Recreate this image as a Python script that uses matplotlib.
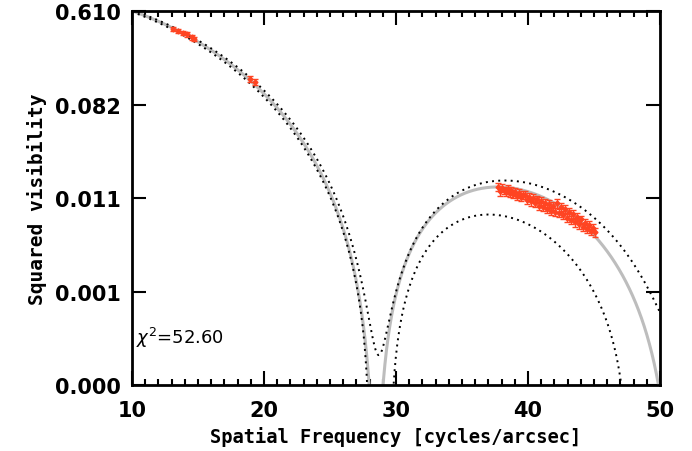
import numpy as np
import matplotlib
matplotlib.use('Agg')
import matplotlib.pyplot as plt
from matplotlib.ticker import MultipleLocator, NullLocator

# measured squared visibilities
freq_a = [13.13, 13.51, 13.84, 14.14, 14.52, 14.71, 18.94, 19.32]
v2_a = [0.418, 0.403, 0.383, 0.373, 0.350, 0.337, 0.1426, 0.1337]
err_a = [0.020, 0.019, 0.018, 0.018, 0.017, 0.016, 0.009, 0.009]

freq_b = [37.70, 37.85, 38.00, 38.15, 38.30, 38.45, 38.60, 38.75, 38.90, 39.05,
          39.20, 39.35, 39.50, 39.65, 39.80, 39.95, 40.10, 40.25, 40.40, 40.55,
          40.70, 40.85, 41.00, 41.15, 41.30, 41.45, 41.60, 41.75, 41.90, 42.05,
          42.20, 42.35, 42.50, 42.65, 42.80, 42.95, 43.10, 43.25, 43.40, 43.55,
          43.70, 43.85, 44.00, 44.15, 44.30, 44.45, 44.60, 44.75, 44.90, 45.05]
v2_b = [0.0140, 0.0128, 0.0137, 0.0131, 0.0126, 0.0134, 0.0124, 0.0129, 0.0121, 0.0126,
        0.0117, 0.0123, 0.0113, 0.0119, 0.0118, 0.0107, 0.0114, 0.0103, 0.0111, 0.0100,
        0.0108, 0.0094, 0.0105, 0.0092, 0.0100, 0.0088, 0.0098, 0.0084, 0.0094, 0.0082,
        0.0099, 0.0080, 0.0091, 0.0077, 0.0088, 0.0072, 0.0082, 0.0069, 0.0078, 0.0066,
        0.0074, 0.0063, 0.0070, 0.0060, 0.0065, 0.0057, 0.0062, 0.0055, 0.0058, 0.0053]
err_b = [0.0012, 0.0011, 0.0012, 0.0011, 0.0011, 0.0012, 0.0011, 0.0011, 0.0010, 0.0011,
         0.0010, 0.0011, 0.0010, 0.0010, 0.0010, 0.0009, 0.0010, 0.0009, 0.0010, 0.0009,
         0.0009, 0.0008, 0.0009, 0.0008, 0.0009, 0.0008, 0.0009, 0.0007, 0.0008, 0.0007,
         0.0009, 0.0007, 0.0008, 0.0007, 0.0008, 0.0006, 0.0007, 0.0006, 0.0007, 0.0006,
         0.0006, 0.0006, 0.0006, 0.0005, 0.0006, 0.0005, 0.0005, 0.0005, 0.0005, 0.0005]

# limb-darkened disk models: diameter [mas], linear LD coeff, offset
fit_diam, fit_u = 44.34, 0.3
upper_diam, upper_u, upper_off = 43.20, 0.15, 0.00038
lower_diam, lower_u, lower_off = 48.64, 0.9, -0.00033

chi2_text = r'$\chi^2$=52.60'
x_min, x_max = 10, 50
y_min, y_max = 0.0002, 0.61
y_ticklabels = ['0.000', '0.001', '0.011', '0.082', '0.610']


def bessel_j1(x):
    tau = np.linspace(0, np.pi, 801)
    integrand = np.cos(tau[None, :] - x[:, None] * np.sin(tau[None, :]))
    return np.trapezoid(integrand, tau, axis=1) / np.pi


def ld_disk_v2(freq, diam_mas, u):
    x = np.pi * diam_mas / 1000.0 * freq
    ud = bessel_j1(x) / x
    fd = (np.sin(x) / x - np.cos(x)) / x**2
    vis = ((1 - u) * ud + u * fd) / ((1 - u) / 2 + u / 3)
    return vis**2


f = np.linspace(x_min, x_max, 2001)
fit = ld_disk_v2(f, fit_diam, fit_u)
upper = ld_disk_v2(f, upper_diam, upper_u) + upper_off
lower = ld_disk_v2(f, lower_diam, lower_u) + lower_off
lower = np.where(lower > 0, lower, np.nan)

fig = plt.figure(figsize=(6.92, 4.52), dpi=100)
ax = fig.add_axes([132/692, 1-386/452, 528/692, 373.6/452])

ax.plot(f, fit, color='#bdbdbd', lw=2.2, zorder=2)
ax.plot(f, upper, color='black', lw=1.4, ls=(0, (1, 2.2)), zorder=3)
ax.plot(f, lower, color='black', lw=1.4, ls=(0, (1, 2.2)), zorder=3)

red = '#ff4422'
for fx, vy, ey in [(freq_a, v2_a, err_a), (freq_b, v2_b, err_b)]:
    ax.errorbar(fx, vy, yerr=ey, fmt='D', ms=2.5, color=red, ecolor=red,
                elinewidth=1, capsize=2.5, capthick=1, zorder=4)

ax.set_yscale('log')
ax.set_xlim(x_min, x_max)
ax.set_ylim(y_min, y_max)
ax.set_yticks(np.geomspace(y_min, y_max, 5))
ax.set_yticklabels(y_ticklabels)
ax.yaxis.set_minor_locator(NullLocator())
ax.set_xticks([10, 20, 30, 40, 50])
ax.xaxis.set_minor_locator(MultipleLocator(1))

ax.tick_params(which='both', direction='in', top=True, right=True, width=1.5)
ax.tick_params(which='major', length=10, labelsize=15, pad=8)
ax.tick_params(axis='x', which='major', pad=11)
ax.tick_params(which='minor', length=4)
for lab in ax.get_xticklabels() + ax.get_yticklabels():
    lab.set_fontweight('bold')
for sp in ax.spines.values():
    sp.set_linewidth(2)

ax.set_xlabel('Spatial Frequency [cycles/arcsec]', family='DejaVu Sans Mono',
              fontweight='bold', fontsize=13.5, labelpad=4)
ax.set_ylabel('Squared visibility', family='DejaVu Sans Mono',
              fontweight='bold', fontsize=14, labelpad=6)

ax.text(10.3, 0.00056, chi2_text, fontsize=13, va='center', ha='left')

fig.savefig('out.png', dpi=100)
